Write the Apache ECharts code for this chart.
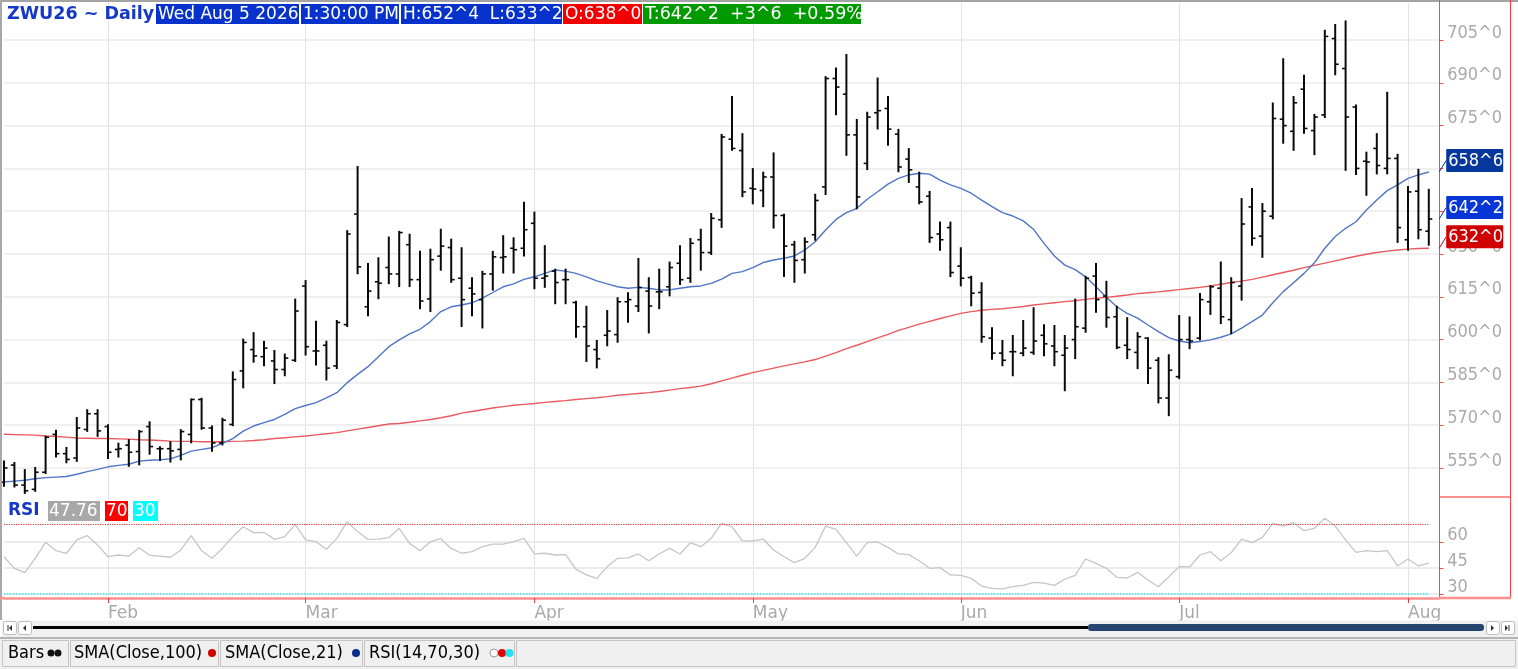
<!DOCTYPE html>
<html>
<head>
<meta charset="utf-8">
<script src="https://cdn.jsdelivr.net/npm/echarts@6/dist/echarts.min.js"></script>
<style>
html, body { margin: 0; padding: 0; background: #fff; }
#main { width: 1518px; height: 669px; }
</style>
</head>
<body>
<div id="main"></div>
<script>
// trading days, 2026 (MM-DD)
var dates = [
  '01-16','01-20','01-21','01-22','01-23','01-26','01-27','01-28','01-29','01-30',
  '02-02','02-03','02-04','02-05','02-06','02-09','02-10','02-11','02-12','02-13','02-17','02-18','02-19','02-20','02-23','02-24','02-25','02-26','02-27',
  '03-02','03-03','03-04','03-05','03-06','03-09','03-10','03-11','03-12','03-13','03-16','03-17','03-18','03-19','03-20','03-23','03-24','03-25','03-26','03-27','03-30','03-31',
  '04-01','04-02','04-06','04-07','04-08','04-09','04-10','04-13','04-14','04-15','04-16','04-17','04-20','04-21','04-22','04-23','04-24','04-27','04-28','04-29','04-30',
  '05-01','05-04','05-05','05-06','05-07','05-08','05-11','05-12','05-13','05-14','05-15','05-18','05-19','05-20','05-21','05-22','05-26','05-27','05-28','05-29',
  '06-01','06-02','06-03','06-04','06-05','06-08','06-09','06-10','06-11','06-12','06-15','06-16','06-17','06-18','06-22','06-23','06-24','06-25','06-26','06-29','06-30',
  '07-01','07-02','07-06','07-07','07-08','07-09','07-10','07-13','07-14','07-15','07-16','07-17','07-20','07-21','07-22','07-23','07-24','07-27','07-28','07-29','07-30','07-31',
  '08-03','08-04','08-05'
]

var opens = [
  550,556,549,547.5,553.5,566.75,560,558.5,568.5,574,
  569.5,561.5,563,560.75,569.5,561.75,561.75,561.5,566.75,579,
  569,563.75,570.25,589,596.5,594,592.5,589.5,592.75,618.75,
  596,598,590.75,605.25,644,611.5,620.25,625.25,623,633.25,
  621,614.25,629.25,632.25,621.5,618,614,623,628.75,632,
  632,640.75,621.5,624,621,613,604.5,596.5,601.5,601.75,
  613.25,611.75,617,616.75,618.5,626.75,621.5,635,630.5,642,
  670.25,666.25,653,652.25,657,643.5,633.25,628,636.75,653.5,
  691.5,686,671.75,661.75,679.5,681,672,663.25,653.5,650.25,
  637,639.25,625.75,621.75,616.5,600.5,595.25,595.75,595.25,595.5,
  601.5,597.75,594.5,600,604,622.25,615.25,608,598,595.5,
  600.5,592.75,579.5,587,600,600.5,613.25,618,607,618.75,
  646.5,636.25,643.25,677.25,673,687.75,673.25,678.75,705.5,695,
  681.5,662.5,667,660,663.5,635,652,638
]
var highs = [
  557.25,556.75,554.25,555,566,568,562,572.5,575.25,575.25,
  570,563.5,564.75,568,571,562.25,564,568.25,579,579.25,
  569.5,572.25,588.5,600,602.25,599.25,596,594.75,614,620.5,
  606.25,599.25,606.5,638,660.5,626.5,628.5,635.75,637.75,636.75,
  630.75,631.5,638.5,635,632,621.5,623.75,630.75,636.25,635.5,
  648,644.5,632.75,624.5,624.5,613.25,611.5,599.5,610,614.5,
  616.25,628.25,621.5,624.5,627,632.75,635.25,638.5,644,671.75,
  685,672,659.75,658.5,665.25,643.75,634.25,635.5,650.75,692,
  695,699.75,677,679.5,691.5,685,673.5,666.75,658.5,651.75,
  641,641,632,622,619.75,604,599.5,601.25,606.5,611,
  605,604.75,601.25,614,622,626.5,620.25,611.5,607.5,602.25,
  600.5,593.5,594.5,608.25,607.75,616,618.75,627,621.5,649.25,
  652.75,647.5,682.75,698.25,685,692.5,678.75,708.25,710.25,711.5,
  682,665.5,672,686.5,664.75,653.5,659.5,652.5
]
var lows = [
  548.75,548.5,546.25,547,553.25,559,557,557.5,568,566.25,
  558.5,559,555.75,556.25,560,557.75,557.25,558,564,568.75,
  561,563.25,570,583.25,592.25,591,584.75,587.5,592.5,594.75,
  591.25,586,590,604.75,623.25,608.5,614.5,619.75,618.75,618.75,
  611,610,624.5,620.25,604.75,608.5,604.25,617.5,623.5,623.5,
  629.5,618,618.5,612.75,612.75,601,592.5,590.25,598,599.25,
  606.25,610,602.5,611,615.5,619.5,620.25,624.5,630,639.5,
  666.5,650.25,647.75,646.75,639.25,622.25,620.25,623.5,635,651,
  679,664.75,646,659.75,674,668.25,659,655.25,647.75,634.25,
  631.5,622.25,619,612,599.25,593.25,591,587.5,594.5,595,
  594.5,591,582.25,593.5,602.75,609.75,604.5,597,593.5,590,
  584.75,578,573.5,586.5,597,600,609,605.75,602.25,614,
  633.25,629,642.5,669,666.5,672.5,665,678,693,659.5,
  658,650.75,658.25,658.25,634.25,631.5,635.5,633.25
]
var closes = [
  555,549,547,553.5,565.75,560,558,569,574,568,
  560.5,561.75,560.5,567.75,562.5,561.75,561,567.75,579,569,
  563.75,571.75,586,599,594.25,597,589.5,593.5,610,597.5,
  596,590,606,637,625.5,617,619.75,623,637.5,621,
  613.5,628,632.75,621,614,616,623,629,629,631.5,
  638.5,621.5,622.25,620,621,604.5,597.75,593.25,603,613.25,
  614,618.25,611.75,616.75,625.25,621,633.75,630.5,642.5,671,
  667,651.75,652.75,657,643.5,632.75,627.75,634.25,648.75,691.5,
  688.5,671.75,650,678,680.25,673.75,660.5,659.5,648.25,635.75,
  635,623.5,621.5,616.25,601,595.25,592.75,595.75,597,599.5,
  598.5,595.75,597,604.5,621.5,614,607.75,597.25,596.5,601,
  590,579.5,589.25,600,599.5,614,618.5,608,620,640.5,
  635.5,645,677.5,675,683,674,678,706.25,696.5,678,
  660,662.25,661,663.5,639.25,651.75,638.5,642.25
]
var sma100 = [
  566.8,566.7,566.6,566.5,566.2,566.0,565.8,565.5,565.4,565.3,
  565.3,565.2,565.1,564.9,564.8,564.6,564.4,564.3,564.3,564.2,
  564.2,564.2,564.3,564.4,564.6,564.9,565.3,565.6,565.9,566.2,
  566.6,567.0,567.4,568.0,568.6,569.2,569.8,570.4,570.6,571.0,
  571.5,572.0,572.6,573.3,574.2,574.8,575.4,576.0,576.5,577.0,
  577.3,577.6,578.0,578.3,578.6,579.0,579.3,579.6,580.0,580.5,
  580.8,581.1,581.4,581.8,582.3,582.8,583.2,583.7,584.5,585.5,
  586.5,587.5,588.4,589.2,590.0,590.8,591.5,592.2,593.0,594.2,
  595.4,596.8,598.0,599.3,600.6,601.8,603.2,604.3,605.4,606.4,
  607.4,608.3,609.2,609.8,610.3,610.6,610.8,611.2,611.6,612.1,
  612.5,612.9,613.3,613.6,614.1,614.5,614.8,615.2,615.6,616.1,
  616.4,616.7,617.1,617.5,617.9,618.3,618.8,619.4,620.0,620.5,
  621.1,621.9,622.7,623.5,624.3,625.2,626.0,626.8,627.6,628.4,
  629.2,629.9,630.5,631.0,631.4,631.7,631.9,632.0
]
var sma21 = [
  550.1,550.4,550.7,551.2,551.6,551.8,552.0,552.8,553.7,554.5,
  555.4,555.9,556.3,557.4,557.7,557.9,558.2,559.4,560.9,561.5,
  562.1,563.6,565.3,567.9,569.7,570.9,572.0,573.8,575.8,576.9,
  577.9,579.6,581.4,584.9,587.8,590.5,594.0,597.5,599.9,602.0,
  603.6,606.3,609.8,611.5,612.1,612.9,614.5,616.5,618.5,619.5,
  621.1,622.0,623.2,624.4,624.0,623.2,622.0,620.6,619.5,618.5,
  618.0,618.3,618.0,617.4,617.4,618.0,618.5,618.8,619.7,621.2,
  623.2,623.8,625.2,627.0,627.9,628.5,629.3,631.4,634.3,638.4,
  642.1,644.5,646.0,649.2,651.8,654.5,656.5,657.7,658.3,658.0,
  655.9,654.2,653.0,651.3,648.9,646.6,644.5,643.3,641.6,638.6,
  633.7,629.3,626.1,624.5,622.0,618.5,614.8,611.5,609.2,607.5,
  605.1,602.8,600.7,599.5,598.9,599.3,599.9,600.8,602.0,604.0,
  606.3,608.6,612.9,616.8,619.9,623.2,626.9,632.0,636.1,639.0,
  641.3,645.4,648.9,652.2,654.2,656.5,657.7,658.75
]
var rsi = [
  51.5,44.8,42.3,50.6,59.8,55,53.5,61.2,63.7,58.3,
  51.5,52.5,51.9,56.7,52.3,51.9,51.2,55.4,63.7,55,
  50.6,56.3,63.1,68.8,65.4,65.6,61.5,63.1,70.2,61.2,
  60.2,55.8,62.1,71.7,66,61.5,61.7,62.5,67.9,59.2,
  55,60.2,61.9,56.3,53.5,54.4,57.3,58.8,58.8,60.2,
  62.1,53.1,53.5,52.5,52.7,44.2,41,39,45.8,50.6,
  50.8,53.1,49.2,53.1,56.3,53.1,59.6,57.3,62.1,70.8,
  68.8,60.6,60.6,61.7,55.4,51.5,48.1,50.6,56.9,69.2,
  67.3,59.6,51.9,59.6,60,56.9,53.1,52.7,49.2,44.8,
  45.2,41,40.8,39,34.6,33.3,32.9,34.2,35,36.7,
  36.3,35,38.5,40.8,50.2,47.7,44.8,39.6,39.2,42.5,
  38.1,34.2,40,45.8,45.6,52.5,54.4,49.2,53.8,61.7,
  59.6,62.7,70.8,69.2,71.2,66.5,67.9,73.7,69.2,61.2,
  54,55,54.4,55,46.2,50.2,46.2,47.76
]
var priceTicks = [555, 570, 585, 600, 615, 630, 645, 660, 675, 690, 705]
var rsiTicks = [30, 45, 60]
var rsiLevels = [70, 30]
var monthNames = ['Jan','Feb','Mar','Apr','May','Jun','Jul','Aug','Sep','Oct','Nov','Dec']

var FONT = "'DejaVu Sans Condensed', 'DejaVu Sans', sans-serif"
var FONT_W = "'DejaVu Sans', sans-serif"
var last = dates.length - 1
// one empty slot after the last bar, as in the platform
var cats = dates.concat([''])

var fmt = v => {
  let w = Math.floor(v + 1e-9)
  let f = Math.round((v - w) * 8)
  if (f === 8) { w++; f = 0 }
  return w + '^' + f
}
var isMonthStart = idx => idx > 0 && idx <= last && dates[idx].slice(0, 2) !== dates[idx - 1].slice(0, 2)
var monthTick = (idx) => isMonthStart(idx)

var chartDom = document.getElementById('main')
var myChart = echarts.init(chartDom)
var option

var ohlc = dates.map((d, i) => [i, opens[i], highs[i], lows[i], closes[i]])

option = {
  animation: false,
  backgroundColor: '#fff',
  grid: [
    { left: 4, width: 1435.2, top: 3, height: 494 },
    { left: 4, width: 1435.2, top: 497, height: 101 }
  ],
  xAxis: [
    {
      type: 'category', gridIndex: 0, data: cats, boundaryGap: false,
      axisLine: { show: false }, axisTick: { show: false }, axisLabel: { show: false },
      splitLine: { show: true, interval: monthTick, lineStyle: { color: '#e3e3e3', width: 1 } }
    },
    {
      type: 'category', gridIndex: 1, data: cats, boundaryGap: false,
      axisLine: { show: true, lineStyle: { color: '#ff9090', width: 2.5 } },
      axisTick: { show: true, interval: monthTick, length: 5, lineStyle: { color: '#ff3b3b' } },
      axisLabel: {
        interval: monthTick, align: 'left', margin: 7, color: '#a9a9a9', fontSize: 17, fontFamily: FONT_W,
        formatter: v => monthNames[parseInt(v.slice(0, 2), 10) - 1]
      },
      splitLine: { show: true, interval: monthTick, lineStyle: { color: '#e3e3e3', width: 1 } }
    }
  ],
  yAxis: [
    {
      type: 'value', gridIndex: 0, position: 'right', min: 544.82, max: 717.97, scale: true,
      axisLine: { show: true, lineStyle: { color: '#ff4545', width: 1 } },
      axisTick: { show: true, customValues: priceTicks, length: 4, lineStyle: { color: '#ff4545' } },
      axisLabel: {
        customValues: priceTicks, formatter: v => fmt(v), color: '#aaaaaa', fontSize: 18,
        fontFamily: FONT, verticalAlign: 'bottom', lineHeight: 14, margin: 8
      },
      splitLine: { show: true, lineStyle: { color: '#ebebeb', width: 1.5 } }
    },
    {
      type: 'value', gridIndex: 1, position: 'right', min: 27.69, max: 85.96, scale: true,
      axisLine: { show: true, lineStyle: { color: '#ff4545', width: 1 } },
      axisTick: { show: true, customValues: rsiTicks, length: 4, lineStyle: { color: '#ff4545' } },
      axisLabel: {
        customValues: rsiTicks, color: '#aaaaaa', fontSize: 18, fontFamily: FONT,
        verticalAlign: 'bottom', lineHeight: 14, margin: 8
      },
      splitLine: { show: true, lineStyle: { color: '#e6e6e6', width: 1.5 } }
    }
  ],
  series: [
    {
      name: 'Bars', type: 'custom', xAxisIndex: 0, yAxisIndex: 0, z: 5,
      data: ohlc,
      encode: { x: 0, y: [1, 2, 3, 4] },
      renderItem: (params, api) => {
        let i = api.value(0)
        let pO = api.coord([i, api.value(1)])
        let pH = api.coord([i, api.value(2)])
        let pL = api.coord([i, api.value(3)])
        let pC = api.coord([i, api.value(4)])
        let x = pH[0]
        let st = { stroke: '#0a0a0a', lineWidth: 2 }
        return {
          type: 'group',
          children: [
            { type: 'line', shape: { x1: x, y1: pH[1] - 1, x2: x, y2: pL[1] + 1 }, style: st },
            { type: 'line', shape: { x1: x - 3.5, y1: pO[1], x2: x, y2: pO[1] }, style: { stroke: '#0a0a0a', lineWidth: 1.6 } },
            { type: 'line', shape: { x1: x, y1: pC[1], x2: x + 3.5, y2: pC[1] }, style: { stroke: '#0a0a0a', lineWidth: 1.6 } }
          ]
        }
      }
    },
    {
      name: 'SMA(Close,100)', type: 'line', xAxisIndex: 0, yAxisIndex: 0, z: 4,
      data: sma100, symbol: 'none', smooth: false,
      lineStyle: { color: '#e85a60', width: 1.4 }
    },
    {
      name: 'SMA(Close,21)', type: 'line', xAxisIndex: 0, yAxisIndex: 0, z: 4,
      data: sma21, symbol: 'none', smooth: false,
      lineStyle: { color: '#5075c8', width: 1.4 }
    },
    {
      name: 'RSI(14,70,30)', type: 'line', xAxisIndex: 1, yAxisIndex: 1, z: 4,
      data: rsi, symbol: 'none',
      lineStyle: { color: '#c6c6c6', width: 1.3 },
      markLine: {
        silent: true, symbol: 'none', label: { show: false },
        data: [
          [{ coord: [0, rsiLevels[0]], lineStyle: { color: '#e83030', type: 'dotted', width: 1.2 } }, { coord: [last, rsiLevels[0]] }],
          [{ coord: [0, rsiLevels[1]], lineStyle: { color: '#2ee6ff', type: 'dotted', width: 1.5 } }, { coord: [last, rsiLevels[1]] }]
        ]
      }
    }
  ]
}

option && myChart.setOption(option)

// ---- decorations: header, frame, toolbar, value badges ----
var rect = (x, y, w, h, fill, stroke, r) => ({
  type: 'rect', silent: true, z: 100,
  shape: { x: x, y: y, width: w, height: h, r: r || 0 },
  style: { fill: fill, stroke: stroke || null, lineWidth: 1 }
})
var text = (x, y, s, fill, font) => ({
  type: 'text', silent: true, z: 101, x: x, y: y,
  style: { text: s, fill: fill, font: font || ('17px ' + FONT_W), textAlign: 'left', textVerticalAlign: 'middle', align: 'left', verticalAlign: 'middle' }
})
var seg = (x1, y1, x2, y2, color, w) => ({
  type: 'line', silent: true, z: 100,
  shape: { x1: x1, y1: y1, x2: x2, y2: y2 },
  style: { stroke: color, lineWidth: w || 1 }
})
var dot = (cx, cy, r, fill, stroke) => ({
  type: 'circle', silent: true, z: 101,
  shape: { cx: cx, cy: cy, r: r },
  style: { fill: fill, stroke: stroke || null, lineWidth: 1 }
})

var chg = closes[last] - closes[last - 1]
var pct = chg / closes[last - 1] * 100
var sign = chg >= 0 ? '+' : '-'

var els = [
  // borders
  rect(0, 0, 1518, 2, '#a3a3a3'),
  rect(0, 0, 2, 620, '#a8a8a8'),
  seg(1510.5, 0, 1510.5, 598, '#ff3b3b', 1),
  seg(1439.5, 0, 1439.5, 3, '#ff4545', 1),
  seg(1440, 497, 1510, 497, '#ff9090', 2),
  seg(0, 598, 4, 598, '#ff9090', 2.5),
  seg(1439, 598, 1511, 598, '#ff9090', 2.5),

  // header
  text(7, 14, 'ZWU26 ~ Daily', '#1538c8', 'bold 17.5px ' + FONT_W),
  rect(156, 4, 143, 20, '#0733cc'),
  text(158, 14.5, 'Wed Aug 5 2026', '#fff'),
  rect(301, 4, 98, 20, '#0733cc'),
  text(303, 14.5, '1:30:00 PM', '#fff'),
  rect(401, 4, 161, 20, '#0733cc'),
  text(403, 14.5, 'H:' + fmt(highs[last]) + '  L:' + fmt(lows[last]), '#fff'),
  rect(563, 4, 79, 20, '#f20000'),
  text(565, 14.5, 'O:' + fmt(opens[last]), '#fff'),
  rect(643, 4, 218, 20, '#009a00'),
  text(645, 14.5, 'T:' + fmt(closes[last]) + '  ' + sign + fmt(Math.abs(chg)) + '  ' + sign + Math.abs(pct).toFixed(2) + '%', '#fff', '17.5px ' + FONT_W),

  // RSI header
  text(8, 511, 'RSI', '#1538c8', 'bold 17px ' + FONT_W),
  rect(48, 501, 52, 20, '#a8a8a8'),
  text(49, 511.5, rsi[last].toFixed(2), '#fff'),
  rect(105, 501, 23, 20, '#ff0000'),
  text(106, 511.5, String(rsiLevels[0]), '#fff'),
  rect(133, 501, 25, 20, '#00ffff'),
  text(134, 511.5, String(rsiLevels[1]), '#fff'),

  // scroll bar
  rect(2, 620.5, 1516, 17.5, '#f0f0f0'),
  rect(3.5, 621.5, 13, 13, '#fdfdfd', '#bdbdbd', 2),
  rect(18.5, 621.5, 13, 13, '#fdfdfd', '#bdbdbd', 2),
  { type: 'polygon', silent: true, z: 102, shape: { points: [[12, 625], [12, 631], [9, 628]] }, style: { fill: '#333' } },
  seg(8, 625, 8, 631, '#333', 1),
  { type: 'polygon', silent: true, z: 102, shape: { points: [[26, 625], [26, 631], [23, 628]] }, style: { fill: '#333' } },
  seg(33, 627.5, 1088, 627.5, '#000', 3),
  rect(1088, 624, 396, 7, '#27466f', null, 3),
  rect(1486.5, 621.5, 13, 13, '#fdfdfd', '#bdbdbd', 2),
  rect(1501.5, 621.5, 13, 13, '#fdfdfd', '#bdbdbd', 2),
  { type: 'polygon', silent: true, z: 102, shape: { points: [[1491, 625], [1491, 631], [1494, 628]] }, style: { fill: '#333' } },
  { type: 'polygon', silent: true, z: 102, shape: { points: [[1505, 625], [1505, 631], [1508, 628]] }, style: { fill: '#333' } },
  seg(1509, 625, 1509, 631, '#333', 1),

  // legend tabs
  rect(0, 637, 1518, 32, '#f0f0f0'),
  seg(0, 638, 1518, 638, '#a0a0a0', 1.5),
  rect(2.5, 640.5, 66, 26, '#f0f0f0', '#c4c4c4'),
  rect(70.5, 640.5, 148, 26, '#f0f0f0', '#c4c4c4'),
  rect(220.5, 640.5, 142, 26, '#f0f0f0', '#c4c4c4'),
  rect(364.5, 640.5, 150, 26, '#f0f0f0', '#c4c4c4'),
  rect(516.5, 640.5, 999, 26, '#f0f0f0', '#c4c4c4'),
  text(8, 653.5, 'Bars', '#000', '18px ' + FONT),
  dot(51, 653, 3.5, '#111'),
  dot(58, 653, 3.5, '#111'),
  text(74, 653.5, 'SMA(Close,100)', '#000', '18px ' + FONT),
  dot(212, 653, 4, '#d40000'),
  text(225, 653.5, 'SMA(Close,21)', '#000', '18px ' + FONT),
  dot(356, 653, 4, '#0a2e8a'),
  text(369, 653.5, 'RSI(14,70,30)', '#000', '18px ' + FONT),
  dot(494, 653, 4, '#fff', '#999'),
  dot(502, 653, 4, '#e00000'),
  dot(509.5, 653, 4, '#22e0f0')
]

// value badges on the price axis, placed with the axis scales
var axisX = myChart.convertToPixel({ xAxisIndex: 0 }, cats.length - 1)
var badges = [
  { v: sma21[last], color: '#06379c' },
  { v: closes[last], color: '#0836d6' },
  { v: sma100[last], color: '#d00000' }
]
badges.forEach(b => {
  let y = myChart.convertToPixel({ yAxisIndex: 0 }, b.v)
  els.push(seg(axisX, y, axisX + 7, y - 11.5, b.color, 1))
  els.push(rect(axisX + 7, y - 23, 57, 23, b.color, null, 1))
  els.push(text(axisX + 9, y - 11, fmt(b.v), '#fff', '18px ' + FONT))
})

myChart.setOption({ graphic: { elements: els } })
</script>
</body>
</html>
